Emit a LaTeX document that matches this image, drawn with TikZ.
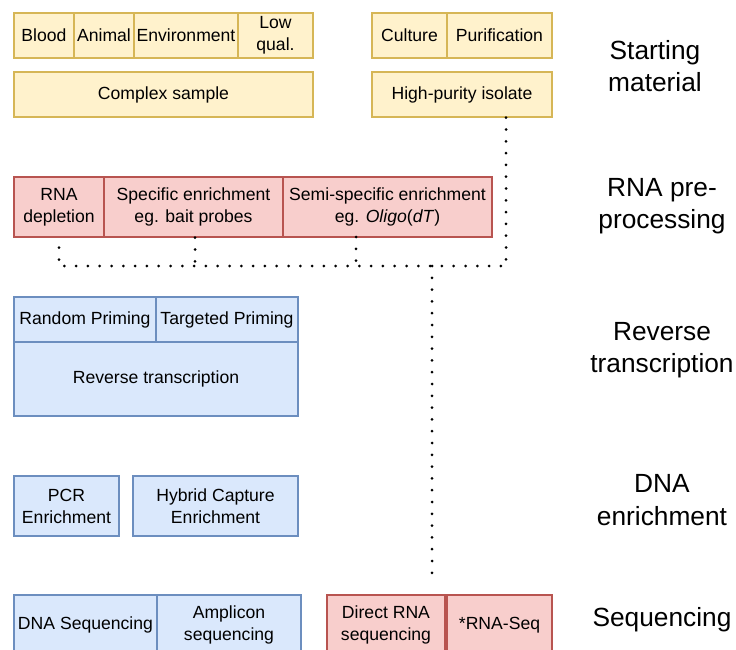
\documentclass[tikz,border=0pt]{standalone}
\usepackage{fontspec}
\setmainfont{Liberation Sans}
\definecolor{yfill}{HTML}{FFF2CC}
\definecolor{ydraw}{HTML}{D6B656}
\definecolor{rfill}{HTML}{F8CECC}
\definecolor{rdraw}{HTML}{B85450}
\definecolor{bfill}{HTML}{DAE8FC}
\definecolor{bdraw}{HTML}{6C8EBF}
\begin{document}
\begin{tikzpicture}[x=1pt,y=-1pt,
  cell/.style={draw, line width=1.4pt, inner sep=0pt, align=center,
    font=\fontsize{17.6}{22}\selectfont},
  ycell/.style={cell, fill=yfill, draw=ydraw},
  rcell/.style={cell, fill=rfill, draw=rdraw},
  bcell/.style={cell, fill=bfill, draw=bdraw},
  steplabel/.style={inner sep=0pt, align=center, font=\fontsize{26.3}{32.5}\selectfont},
  dotline/.style={line width=3pt, line cap=round, dash pattern=on 0pt off 11.8pt}]
\clip (0,0) rectangle (736,650);
\fill[white] (0,0) rectangle (736,650);
% Starting material
\node[ycell, minimum width=60pt, minimum height=45pt] (blood) at (44,35.5) {Blood};
\node[ycell, minimum width=60pt, minimum height=45pt] (animal) at (104,35.5) {Animal};
\node[ycell, minimum width=104pt, minimum height=45pt] (env) at (186,35.5) {Environment};
\node[ycell, minimum width=75pt, minimum height=45pt] (lowq) at (275.5,35.5) {Low\\qual.};
\node[ycell, minimum width=299pt, minimum height=45pt] (complex) at (163.5,94.5) {Complex sample};
\node[ycell, minimum width=75pt, minimum height=45pt] (culture) at (409.5,35.5) {Culture};
\node[ycell, minimum width=105pt, minimum height=45pt] (purif) at (499.5,35.5) {Purification};
\node[ycell, minimum width=180pt, minimum height=45pt] (hpi) at (462,94.5) {High-purity isolate};
% RNA pre-processing
\node[rcell, minimum width=90pt, minimum height=60pt] (rnadep) at (59,207) {RNA\\depletion};
\node[rcell, minimum width=179pt, minimum height=60pt] (spec) at (193.5,207) {Specific enrichment\\eg. bait probes};
\node[rcell, minimum width=209pt, minimum height=60pt] (semi) at (387.5,207) {Semi-specific enrichment\\eg. \textit{Oligo}(\textit{dT})};
% Reverse transcription
\node[bcell, minimum width=142pt, minimum height=45pt] (randp) at (85,319.5) {Random Priming};
\node[bcell, minimum width=142pt, minimum height=45pt] (targp) at (227,319.5) {Targeted Priming};
\node[bcell, minimum width=284pt, minimum height=74pt] (revt) at (156,379) {Reverse transcription};
% DNA enrichment
\node[bcell, minimum width=105pt, minimum height=60pt] (pcr) at (66.5,506) {PCR\\Enrichment};
\node[bcell, minimum width=165pt, minimum height=60pt] (hyb) at (215.5,506) {Hybrid Capture\\Enrichment};
% Sequencing
\node[bcell, minimum width=143pt, minimum height=60pt] (dnaseq) at (85.5,625) {DNA Sequencing};
\node[bcell, minimum width=144pt, minimum height=60pt] (ampl) at (229,625) {Amplicon\\sequencing};
\node[rcell, minimum width=118pt, minimum height=60pt] (drna) at (386,625) {Direct RNA\\sequencing};
\node[rcell, minimum width=105pt, minimum height=60pt] (rnaseq) at (499.5,625) {*RNA-Seq};
% Step labels
\node[steplabel] (l1) at (655,66) {Starting\\material};
\node[steplabel] (l2) at (662,206) {RNA pre-\\processing};
\node[steplabel] (l3) at (662,350) {Reverse\\transcription};
\node[steplabel] (l4) at (662,500) {DNA\\enrichment};
\node[steplabel] (l5) at (662,620) {Sequencing};
% Dotted connectors
\coordinate (corner) at (506,266);
\coordinate (junc) at (432,266);
\coordinate (semidrop) at (356,237);
\coordinate (seqend) at (432,578);
\draw[dotline] (hpi.south -| corner) -- (corner) -- (corner -| rnadep.south) -- (rnadep.south);
\draw[dotline] (spec.south -| 195,0) -- (195,266);
\draw[dotline] (semidrop) -- (semidrop |- corner);
\draw[dotline] (junc) -- (seqend);
\end{tikzpicture}
\end{document}
